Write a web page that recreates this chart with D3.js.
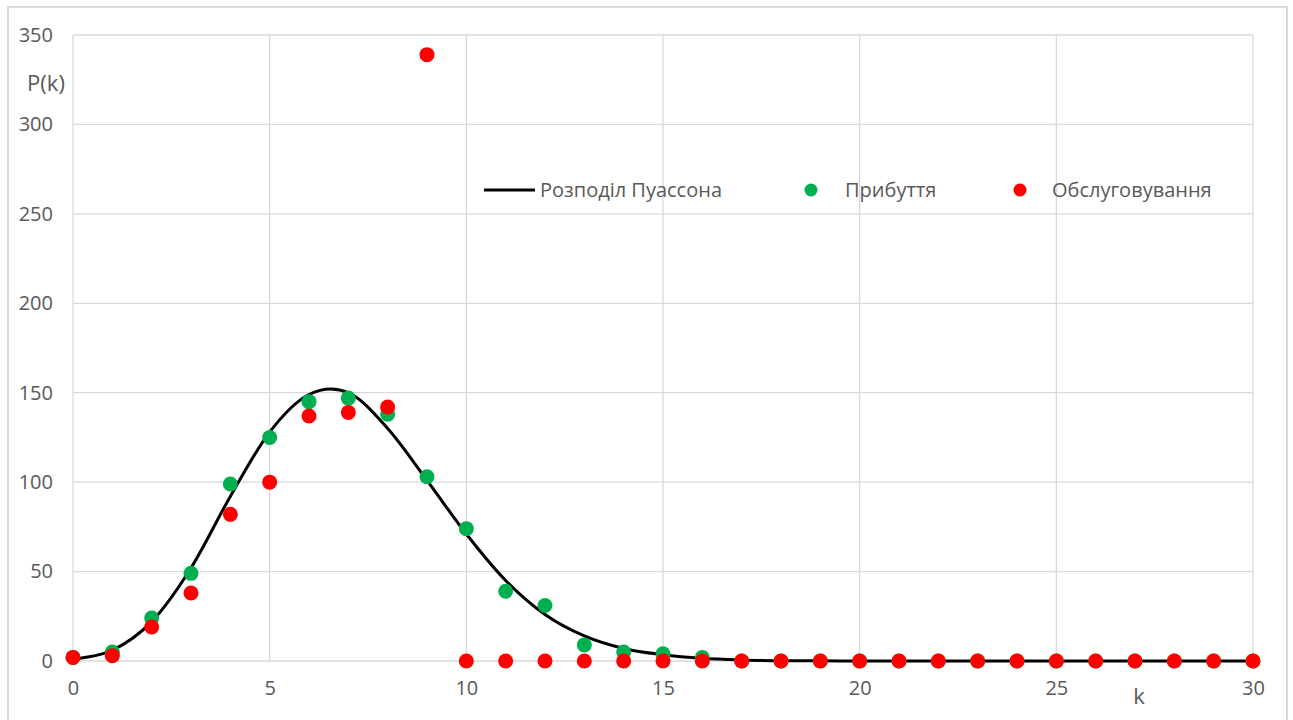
<!DOCTYPE html>
<html>

<head>
  <meta charset="utf-8">
  <style type="text/css">
    body {
      margin: 0;
      background: #fff;
    }

    svg text {
      font-family: "Open Sans", sans-serif;
      fill: #595959;
    }
  </style>
  <title>Розподіл Пуассона</title>
</head>

<body>
  <script src="https://cdn.jsdelivr.net/npm/d3@7"></script>
  <script>
    // k = 0..30
    var kValues = [0, 1, 2, 3, 4, 5, 6, 7, 8, 9, 10, 11, 12, 13, 14, 15,
      16, 17, 18, 19, 20, 21, 22, 23, 24, 25, 26, 27, 28, 29, 30];

    // smooth theoretical curve
    var poisson = [1, 6, 22, 52, 92, 128, 149, 150, 130, 101, 71, 45, 26, 14, 7, 3.5,
      1.5, 0.6, 0.2, 0.1, 0, 0, 0, 0, 0, 0, 0, 0, 0, 0, 0];

    // Прибуття (green)
    var arrivals = [2, 5, 24, 49, 99, 125, 145, 147, 138, 103, 74, 39, 31, 9, 5, 4,
      2, 0, 0, 0, 0, 0, 0, 0, 0, 0, 0, 0, 0, 0, 0];

    // Обслуговування (red)
    var service = [2, 3, 19, 38, 82, 100, 137, 139, 142, 339, 0, 0, 0, 0, 0, 0,
      0, 0, 0, 0, 0, 0, 0, 0, 0, 0, 0, 0, 0, 0, 0];

    var xTicks = [0, 5, 10, 15, 20, 25, 30];
    var yTicks = [0, 50, 100, 150, 200, 250, 300, 350];

    var seriesNames = ["Розподіл Пуассона", "Прибуття", "Обслуговування"];

    var margin = {
        top: 35,
        right: 40,
        bottom: 59,
        left: 73
      },
      width = 1293 - margin.left - margin.right,
      height = 720 - margin.top - margin.bottom;

    var svgRoot = d3.select("body").append("svg")
      .attr("width", 1293)
      .attr("height", 720);

    // chart border
    svgRoot.append("rect")
      .attr("x", 8)
      .attr("y", 7)
      .attr("width", 1279)
      .attr("height", 740)
      .attr("fill", "#fff")
      .attr("stroke", "#d9d9d9")
      .attr("stroke-width", 2);

    var svg = svgRoot.append("g")
      .attr("transform", "translate(" + margin.left + "," + margin.top + ")");

    var x = d3.scaleLinear()
      .domain([0, 30])
      .range([0, width]);

    var y = d3.scaleLinear()
      .domain([0, 350])
      .range([height, 0]);

    // gridlines
    svg.append("g")
      .selectAll("line")
      .data(yTicks)
      .enter().append("line")
      .attr("x1", 0)
      .attr("x2", width)
      .attr("y1", d => y(d))
      .attr("y2", d => y(d))
      .attr("stroke", "#d9d9d9")
      .attr("stroke-width", 1.3);

    svg.append("g")
      .selectAll("line")
      .data(xTicks)
      .enter().append("line")
      .attr("x1", d => x(d))
      .attr("x2", d => x(d))
      .attr("y1", 0)
      .attr("y2", height)
      .attr("stroke", "#d9d9d9")
      .attr("stroke-width", 1.3);

    // axes (labels only)
    var yAxis = d3.axisLeft(y)
      .tickValues(yTicks)
      .tickSize(0)
      .tickPadding(20);
    var gy = svg.append("g").call(yAxis);
    gy.select(".domain").remove();
    gy.selectAll("text")
      .style("font-size", "20px")
      .attr("fill", "#595959");

    var xAxis = d3.axisBottom(x)
      .tickValues(xTicks)
      .tickSize(0)
      .tickPadding(20);
    var gx = svg.append("g")
      .attr("transform", "translate(0," + height + ")")
      .call(xAxis);
    gx.select(".domain").remove();
    gx.selectAll("text")
      .style("font-size", "20px")
      .attr("fill", "#595959");

    // axis titles
    svgRoot.append("text")
      .attr("x", 46)
      .attr("y", 91)
      .attr("text-anchor", "middle")
      .style("font-size", "22px")
      .text("P(k)");

    svgRoot.append("text")
      .attr("x", 1139)
      .attr("y", 704)
      .attr("text-anchor", "middle")
      .style("font-size", "22px")
      .text("k");

    // Poisson curve
    var line = d3.line()
      .x((d, i) => x(kValues[i]))
      .y(d => y(d))
      .curve(d3.curveCardinal.tension(0));

    svg.append("path")
      .datum(poisson)
      .attr("d", line)
      .attr("fill", "none")
      .attr("stroke", "#000")
      .attr("stroke-width", 3);

    // points
    svg.append("g")
      .selectAll("circle")
      .data(arrivals)
      .enter().append("circle")
      .attr("cx", (d, i) => x(kValues[i]))
      .attr("cy", d => y(d))
      .attr("r", 7.5)
      .attr("fill", "#00b050");

    svg.append("g")
      .selectAll("circle")
      .data(service)
      .enter().append("circle")
      .attr("cx", (d, i) => x(kValues[i]))
      .attr("cy", d => y(d))
      .attr("r", 7.5)
      .attr("fill", "#ff0000");

    // legend
    var legend = svgRoot.append("g");
    var ly = 190;

    legend.append("line")
      .attr("x1", 484)
      .attr("x2", 535)
      .attr("y1", ly)
      .attr("y2", ly)
      .attr("stroke", "#000")
      .attr("stroke-width", 3);
    legend.append("text")
      .attr("x", 540)
      .attr("y", ly + 7)
      .style("font-size", "20px")
      .text(seriesNames[0]);

    legend.append("circle")
      .attr("cx", 811)
      .attr("cy", ly)
      .attr("r", 6.5)
      .attr("fill", "#00b050");
    legend.append("text")
      .attr("x", 845)
      .attr("y", ly + 7)
      .style("font-size", "20px")
      .text(seriesNames[1]);

    legend.append("circle")
      .attr("cx", 1020)
      .attr("cy", ly)
      .attr("r", 6.5)
      .attr("fill", "#ff0000");
    legend.append("text")
      .attr("x", 1052)
      .attr("y", ly + 7)
      .style("font-size", "20px")
      .text(seriesNames[2]);
  </script>
</body>

</html>
